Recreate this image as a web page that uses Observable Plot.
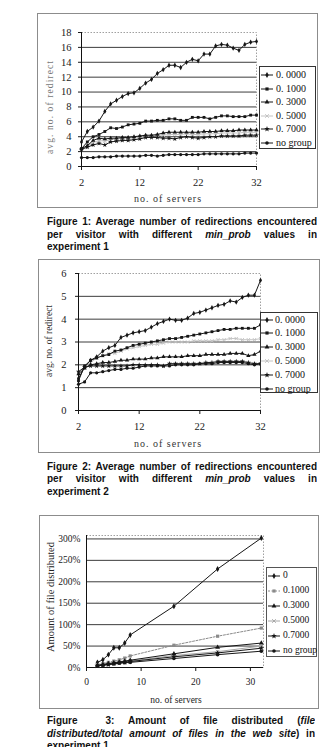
<!DOCTYPE html>
<html><head><meta charset="utf-8">
<script src="https://cdn.jsdelivr.net/npm/d3@7"></script>
<script src="https://cdn.jsdelivr.net/npm/@observablehq/plot@0.6"></script>
<style>
html,body{margin:0;padding:0;background:#fff;}
body{width:330px;height:747px;overflow:hidden;position:relative;}
.abs{position:absolute;}
.box{position:absolute;border:1px solid #8c8c8c;box-sizing:border-box;}
.lbl{position:absolute;white-space:nowrap;font-family:"Liberation Serif",serif;transform:translate(-50%,-50%);}
.lbly{position:absolute;white-space:nowrap;font-family:"Liberation Serif",serif;transform:translate(-50%,-50%) rotate(-90deg);}
.leg{position:absolute;border:1px solid #333;box-sizing:border-box;background:#fff;}
.legrow{position:absolute;white-space:nowrap;font-family:"Liberation Serif",serif;color:#111;}
.cap{position:absolute;font-family:"Liberation Sans",Arial,sans-serif;font-weight:bold;font-size:10px;color:#111;}
.cap div{height:12.5px;line-height:12.5px;white-space:nowrap;}
.cap .j{text-align:justify;text-align-last:justify;white-space:normal;overflow:hidden;}
svg text{font-family:"Liberation Serif",serif;}
</style></head>
<body>
<script>
// ---------- Figure 1 data ----------
const fig1Servers = [2,3,4,5,6,7,8,9,10,11,12,13,14,15,16,17,18,19,20,21,22,23,24,25,26,27,28,29,30,31,32];
const fig1Names = ["0. 0000","0. 1000","0. 3000","0. 5000","0. 7000","no group"];
const fig1_p0000 = [3.3,4.7,5.3,6.1,7.4,8.4,8.9,9.4,9.8,9.9,10.5,11.2,11.7,12.5,13.0,13.6,13.6,13.3,14.0,14.4,14.2,15.1,15.1,16.2,16.4,16.3,15.9,15.6,16.4,16.7,16.8];
const fig1_p1000 = [2.4,3.3,4.0,4.3,4.7,5.2,5.1,5.3,5.6,5.7,5.8,6.1,6.1,6.2,6.2,6.4,6.4,6.2,6.2,6.6,6.6,6.6,6.4,6.6,6.8,6.8,6.7,6.7,6.7,6.9,6.9];
const fig1_p3000 = [2.4,2.8,3.5,3.8,3.7,3.8,3.8,3.9,3.9,4.0,4.1,4.2,4.2,4.3,4.5,4.6,4.6,4.6,4.6,4.6,4.6,4.7,4.7,4.7,4.8,4.8,4.8,4.9,4.9,4.9,4.9];
const fig1_p5000 = [2.4,2.8,3.2,3.5,3.4,3.6,3.7,3.8,3.8,3.9,4.0,4.1,4.1,4.2,4.2,4.3,4.3,4.3,4.4,4.3,4.3,4.4,4.4,4.4,4.5,4.5,4.5,4.5,4.6,4.6,4.6];
const fig1_p7000 = [2.3,2.6,2.9,3.1,2.9,3.3,3.4,3.5,3.5,3.6,3.7,3.9,3.9,3.9,3.8,3.8,3.7,3.9,4.0,3.9,3.8,3.9,4.0,4.0,4.1,4.1,4.1,4.1,4.2,4.2,4.2];
const fig1_noGroup = [1.2,1.2,1.2,1.3,1.3,1.3,1.4,1.4,1.4,1.4,1.4,1.5,1.5,1.4,1.5,1.6,1.6,1.6,1.6,1.6,1.6,1.7,1.7,1.7,1.7,1.7,1.7,1.7,1.8,1.8,1.8];
const fig1YTicks = [0,2,4,6,8,10,12,14,16,18];
const fig1XTicks = [2,12,22,32];

// ---------- Figure 2 data ----------
const fig2Servers = [2,3,4,5,6,7,8,9,10,11,12,13,14,15,16,17,18,19,20,21,22,23,24,25,26,27,28,29,30,31,32];
const fig2Names = ["0. 0000","0. 1000","0. 3000","0. 5000","0. 7000","no group"];
const fig2_p0000 = [1.4,1.9,2.2,2.35,2.6,2.75,2.85,3.2,3.3,3.4,3.45,3.5,3.65,3.8,3.9,4.0,3.95,3.95,4.05,4.25,4.3,4.4,4.5,4.6,4.65,4.8,4.75,4.95,5.05,5.05,5.7];
const fig2_p1000 = [1.3,1.95,2.2,2.3,2.4,2.45,2.6,2.65,2.75,2.85,2.9,2.95,3.0,3.05,3.1,3.15,3.15,3.2,3.25,3.3,3.35,3.4,3.45,3.5,3.55,3.55,3.6,3.6,3.6,3.6,3.75];
const fig2_p3000 = [1.6,1.85,2.0,2.05,2.1,2.1,2.15,2.2,2.2,2.25,2.25,2.25,2.3,2.3,2.35,2.35,2.35,2.35,2.4,2.4,2.4,2.45,2.45,2.45,2.45,2.5,2.5,2.5,2.4,2.45,2.6];
const fig2_p5000 = [1.4,1.9,2.1,2.3,2.4,2.5,2.5,2.6,2.7,2.75,2.8,2.85,2.9,2.9,2.95,3.0,3.0,3.0,3.0,3.05,3.05,3.05,3.05,3.1,3.1,3.15,3.15,3.1,3.1,3.1,3.15];
const fig2_p7000 = [1.7,1.9,1.95,1.95,1.95,1.95,1.95,1.95,1.95,2.0,2.0,2.0,2.0,2.0,1.95,2.05,2.05,2.05,2.05,2.05,2.05,2.1,2.1,2.15,2.15,2.15,2.15,2.15,2.1,2.05,2.05];
const fig2_noGroup = [1.15,1.25,1.65,1.65,1.7,1.75,1.8,1.8,1.85,1.85,1.9,1.95,1.95,1.95,1.95,1.95,2.0,2.0,2.0,2.0,2.05,2.05,2.05,2.1,2.1,2.1,2.1,2.1,2.05,2.0,2.05];
const fig2YTicks = [0,1,2,3,4,5,6];
const fig2XTicks = [2,12,22,32];

// ---------- Figure 3 data (percent) ----------
const fig3Servers = [2,3,4,5,6,7,8,16,24,32];
const fig3Names = ["0","0.1000","0.3000","0.5000","0.7000","no group"];
const fig3_p0 = [12,18,30,46,46,57,76,143,230,302];
const fig3_p1000 = [7,9,12,15,18,22,27,52,73,92];
const fig3_p3000 = [5,7,9,11,13,15,17,32,47,57];
const fig3_p5000 = [5,6,8,10,12,13,15,28,37,50];
const fig3_p7000 = [4,6,7,9,11,12,14,25,34,45];
const fig3_noGroup = [4,5,7,8,10,11,12,21,30,38];
const fig3YTicks = [0,50,100,150,200,250,300];
const fig3XTicks = [0,10,20,30];

// ---------- drawing helpers ----------
const symbols = ["diamond","square","triangle","times","star","circle"];
const d3sym = {diamond:d3.symbolDiamond,square:d3.symbolSquare,triangle:d3.symbolTriangle,times:d3.symbolTimes,star:d3.symbolStar,circle:d3.symbolCircle};

function drawChart(o) {
  const marks = [
    Plot.ruleY(o.yTicks.filter(t => t > 0 && t < o.yDomain[1] && !(o.topIsFrame && t === o.yTicks[o.yTicks.length-1])), {stroke: "#3c3c3c", strokeWidth: 1}),
    Plot.frame({stroke: "#a0a0a0", strokeDasharray: "1.5,1.5"}),
    Plot.ruleX([o.xDomain[0]], {stroke: "#111"}),
    Plot.ruleY([0], {stroke: "#111"}),
    Plot.axisX({ticks: o.xTicks, tickSize: 4, tickPadding: o.xPad, label: null, fontSize: o.tickFont}),
    Plot.axisY({ticks: o.yTicks, tickSize: o.yTickSize, tickPadding: o.yPad, label: null, tickFormat: o.yFmt, fontSize: o.tickFont, style: o.yTickStyle})
  ];
  const order = [3,0,1,2,4,5];
  order.forEach(i => {
    const name = o.names[i];
    const rows = o.series[i].map((v, j) => ({x: o.xs[j], y: v, name}));
    marks.push(Plot.line(rows, {x: "x", y: "y", stroke: o.colors[i], strokeWidth: 1, strokeDasharray: o.dash[i]}));
    const sym = symbols[i];
    const stroked = sym === "times";
    marks.push(Plot.dot(rows, {x: "x", y: "y", r: o.r, symbol: sym,
      fill: stroked ? "none" : o.colors[i], stroke: stroked ? o.colors[i] : "none", strokeWidth: 1}));
  });
  const svg = Plot.plot({
    width: o.w, height: o.h,
    marginLeft: o.ml, marginRight: o.mr, marginTop: o.mt, marginBottom: o.mb,
    x: {domain: o.xDomain},
    y: {domain: o.yDomain},
    style: {background: "transparent", fontFamily: "Liberation Serif, serif", fontSize: o.tickFont + "px", color: "#1a1a1a", overflow: "visible"},
    marks
  });
  svg.setAttribute("font-family", "Liberation Serif, serif");
  svg.style.position = "absolute";
  svg.style.left = o.left + "px";
  svg.style.top = o.top + "px";
  const box = document.createElement("div");
  box.className = "box";
  Object.assign(box.style, {left: o.left + "px", top: o.top + "px", width: o.w + "px", height: o.h + "px"});
  document.body.appendChild(box);
  document.body.appendChild(svg);

  // axis titles
  const xl = document.createElement("div");
  xl.className = "lbl"; xl.textContent = o.xLabel;
  Object.assign(xl.style, {left: o.xLabelPos[0] + "px", top: o.xLabelPos[1] + "px", fontSize: o.xLabelFont + "px", letterSpacing: o.xLabelSpacing + "px", color: o.xLabelColor});
  document.body.appendChild(xl);
  const yl = document.createElement("div");
  yl.className = "lbly"; yl.textContent = o.yLabel;
  Object.assign(yl.style, {left: o.yLabelPos[0] + "px", top: o.yLabelPos[1] + "px", fontSize: o.yLabelFont + "px", letterSpacing: o.yLabelSpacing + "px", color: o.yLabelColor});
  document.body.appendChild(yl);

  // legend
  const L = o.legend;
  const lg = document.createElement("div");
  lg.className = "leg";
  Object.assign(lg.style, {left: L.left + "px", top: L.top + "px", width: L.w + "px", height: L.h + "px", borderColor: L.border});
  document.body.appendChild(lg);
  o.names.forEach((name, i) => {
    const cy = L.firstRow + i * L.step;
    const gw = L.glyph[1] - L.glyph[0];
    const g = d3.create("svg").attr("width", gw + 2).attr("height", 8)
      .style("position", "absolute").style("left", (L.glyph[0] - 1) + "px").style("top", (cy - 4) + "px").style("overflow", "visible");
    g.append("line").attr("x1", 1).attr("x2", gw + 1).attr("y1", 4).attr("y2", 4)
      .attr("stroke", o.colors[i]).attr("stroke-width", 1).attr("stroke-dasharray", o.dash[i] || null);
    const stroked = symbols[i] === "times";
    g.append("path").attr("d", d3.symbol(d3sym[symbols[i]], 10)())
      .attr("transform", `translate(${gw / 2 + 1},4)`)
      .attr("fill", stroked ? "none" : o.colors[i]).attr("stroke", stroked ? o.colors[i] : "none");
    document.body.appendChild(g.node());
    const t = document.createElement("div");
    t.className = "legrow"; t.textContent = name;
    Object.assign(t.style, {left: L.textX + "px", top: (cy - L.font * 0.6) + "px", fontSize: L.font + "px", lineHeight: (L.font * 1.2) + "px"});
    document.body.appendChild(t);
  });

  // caption
  const cap = document.createElement("div");
  cap.className = "cap";
  Object.assign(cap.style, {left: o.cap.left + "px", top: o.cap.top + "px", width: o.cap.w + "px"});
  cap.innerHTML = o.cap.lines.map((l, k) => `<div class="${k < o.cap.lines.length - 1 ? "j" : ""}">${l}</div>`).join("");
  document.body.appendChild(cap);
}

const darkColors = ["#161616","#161616","#161616","#c4c4c4","#161616","#161616"];

drawChart({
  left: 37, top: 13, w: 281, h: 195, ml: 44, mr: 62, mt: 19, mb: 42,
  xs: fig1Servers, names: fig1Names,
  series: [fig1_p0000, fig1_p1000, fig1_p3000, fig1_p5000, fig1_p7000, fig1_noGroup],
  colors: darkColors, dash: [null,null,null,null,null,null], r: 1.6,
  xDomain: [2, 32], yDomain: [0, 18], xTicks: fig1XTicks, yTicks: fig1YTicks, topIsFrame: true,
  xPad: 8, yPad: 7, yTickSize: 3, tickFont: 10.5, yFmt: d => d,
  xLabel: "no. of servers", xLabelPos: [168, 198], xLabelFont: 10, xLabelSpacing: 1, xLabelColor: "#333",
  yLabel: "avg. no. of redirect", yLabelPos: [50, 107], yLabelFont: 9.5, yLabelSpacing: 1.1, yLabelColor: "#777",
  legend: {left: 259, top: 66, w: 57, h: 83, firstRow: 75, step: 13.6, glyph: [261, 273], textX: 276, font: 10, border: "#333"},
  cap: {left: 47, top: 216, w: 270, lines: [
    "Figure 1: Average number of redirections encountered",
    "per visitor with different <i>min_prob</i> values in",
    "experiment 1"]}
});

drawChart({
  left: 38, top: 259, w: 282, h: 194, ml: 40, mr: 60, mt: 14, mb: 43,
  xs: fig2Servers, names: fig2Names,
  series: [fig2_p0000, fig2_p1000, fig2_p3000, fig2_p5000, fig2_p7000, fig2_noGroup],
  colors: darkColors, dash: [null,null,null,null,null,null], r: 1.6,
  xDomain: [2, 32], yDomain: [0, 6], xTicks: fig2XTicks, yTicks: fig2YTicks, topIsFrame: true,
  xPad: 8, yPad: 9, yTickSize: 3, tickFont: 10.5, yFmt: d => d,
  xLabel: "no. of servers", xLabelPos: [168, 443], xLabelFont: 10, xLabelSpacing: 1, xLabelColor: "#333",
  yLabel: "avg. no. of redirect", yLabelPos: [49, 341], yLabelFont: 9.5, yLabelSpacing: 0, yLabelColor: "#333",
  legend: {left: 260, top: 312, w: 58, h: 81, firstRow: 319.5, step: 13.8, glyph: [261, 273], textX: 275, font: 10, border: "#333"},
  cap: {left: 47, top: 460.5, w: 270, lines: [
    "Figure 2: Average number of redirections encountered",
    "per visitor with different <i>min_prob</i> values in",
    "experiment 2"]}
});

drawChart({
  left: 39, top: 515, w: 280, h: 194, ml: 47, mr: 56, mt: 20, mb: 42,
  xs: fig3Servers, names: fig3Names,
  series: [fig3_p0, fig3_p1000, fig3_p3000, fig3_p5000, fig3_p7000, fig3_noGroup],
  colors: ["#161616","#8a8a8a","#161616","#a8a8a8","#161616","#161616"], dash: [null,"2,1.5",null,null,null,null], r: 1.8,
  xDomain: [0, 32.4], yDomain: [0, 308], xTicks: fig3XTicks, yTicks: fig3YTicks, topIsFrame: false,
  xPad: 7, yPad: 6, yTickSize: 0, tickFont: 9.5, yFmt: d => d + "%", yTickStyle: {letterSpacing: "-0.6px"},
  xLabel: "no. of servers", xLabelPos: [176, 700], xLabelFont: 9.5, xLabelSpacing: 0, xLabelColor: "#222",
  yLabel: "Amount of file distributed", yLabelPos: [50, 597], yLabelFont: 10.5, yLabelSpacing: 0, yLabelColor: "#222",
  legend: {left: 266, top: 567, w: 51, h: 90, firstRow: 575.7, step: 15, glyph: [268, 280], textX: 283, font: 9.5, border: "#555"},
  cap: {left: 47, top: 715, w: 268, lines: [
    "Figure&nbsp;&nbsp;3: Amount of file distributed (<i>file</i>",
    "<i>distributed/total amount of files in the web site</i>) in",
    "experiment 1"]}
});
</script>
</body></html>
